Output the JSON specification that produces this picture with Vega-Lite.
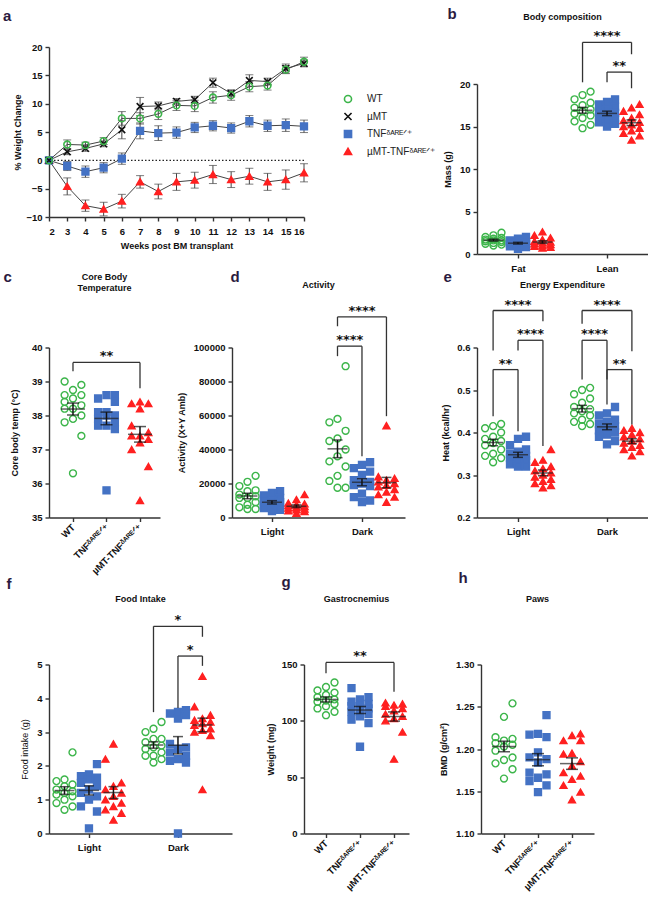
{
  "$schema": "https://vega.github.io/schema/vega-lite/v6.json",
  "padding": {"left": 3, "top": 6, "right": 0, "bottom": 0},
  "spacing": -3.5,
  "vconcat": [
    {
      "bounds": "flush",
      "spacing": 173,
      "hconcat": [
        {
          "width": 255,
          "height": 170,
          "title": {"text": "a", "anchor": "start", "frame": "group", "dx": -46, "offset": 6.5, "fontSize": 15, "color": "#2b1b3f", "baseline": "alphabetic"},
          "data": {"values": [
            {"wk": 2, "g": "µMT-TNF", "m": 0, "se": 0}, {"wk": 3, "g": "µMT-TNF", "m": -4.6, "se": 1.5}, {"wk": 4, "g": "µMT-TNF", "m": -8.0, "se": 1.0}, {"wk": 5, "g": "µMT-TNF", "m": -8.6, "se": 1.2}, {"wk": 6, "g": "µMT-TNF", "m": -7.2, "se": 1.2}, {"wk": 7, "g": "µMT-TNF", "m": -3.8, "se": 1.1}, {"wk": 8, "g": "µMT-TNF", "m": -5.5, "se": 1.3}, {"wk": 9, "g": "µMT-TNF", "m": -3.8, "se": 1.5}, {"wk": 10, "g": "µMT-TNF", "m": -3.5, "se": 1.4}, {"wk": 11, "g": "µMT-TNF", "m": -2.5, "se": 1.6}, {"wk": 12, "g": "µMT-TNF", "m": -3.4, "se": 1.4}, {"wk": 13, "g": "µMT-TNF", "m": -2.8, "se": 1.4}, {"wk": 14, "g": "µMT-TNF", "m": -3.8, "se": 1.5}, {"wk": 15, "g": "µMT-TNF", "m": -3.4, "se": 1.7}, {"wk": 16, "g": "µMT-TNF", "m": -2.2, "se": 1.6},
            {"wk": 2, "g": "TNF", "m": 0, "se": 0}, {"wk": 3, "g": "TNF", "m": -1.0, "se": 0.8}, {"wk": 4, "g": "TNF", "m": -2.0, "se": 1.0}, {"wk": 5, "g": "TNF", "m": -1.3, "se": 0.9}, {"wk": 6, "g": "TNF", "m": 0.3, "se": 1.0}, {"wk": 7, "g": "TNF", "m": 5.2, "se": 1.4}, {"wk": 8, "g": "TNF", "m": 4.8, "se": 1.3}, {"wk": 9, "g": "TNF", "m": 4.9, "se": 1.0}, {"wk": 10, "g": "TNF", "m": 5.8, "se": 0.9}, {"wk": 11, "g": "TNF", "m": 6.1, "se": 0.9}, {"wk": 12, "g": "TNF", "m": 5.7, "se": 0.9}, {"wk": 13, "g": "TNF", "m": 6.9, "se": 1.0}, {"wk": 14, "g": "TNF", "m": 6.1, "se": 1.0}, {"wk": 15, "g": "TNF", "m": 6.2, "se": 1.1}, {"wk": 16, "g": "TNF", "m": 6.0, "se": 1.1},
            {"wk": 2, "g": "µMT", "m": 0, "se": 0}, {"wk": 3, "g": "µMT", "m": 1.5, "se": 0.5}, {"wk": 4, "g": "µMT", "m": 2.1, "se": 0.5}, {"wk": 5, "g": "µMT", "m": 2.9, "se": 0.5}, {"wk": 6, "g": "µMT", "m": 5.4, "se": 1.6}, {"wk": 7, "g": "µMT", "m": 9.5, "se": 1.6}, {"wk": 8, "g": "µMT", "m": 9.6, "se": 0.7}, {"wk": 9, "g": "µMT", "m": 10.4, "se": 0.5}, {"wk": 10, "g": "µMT", "m": 10.7, "se": 0.6}, {"wk": 11, "g": "µMT", "m": 13.7, "se": 0.8}, {"wk": 12, "g": "µMT", "m": 11.8, "se": 0.6}, {"wk": 13, "g": "µMT", "m": 14.1, "se": 1.0}, {"wk": 14, "g": "µMT", "m": 13.9, "se": 0.6}, {"wk": 15, "g": "µMT", "m": 16.2, "se": 0.8}, {"wk": 16, "g": "µMT", "m": 17.1, "se": 0.6},
            {"wk": 2, "g": "WT", "m": 0, "se": 0}, {"wk": 3, "g": "WT", "m": 2.8, "se": 0.8}, {"wk": 4, "g": "WT", "m": 2.7, "se": 0.5}, {"wk": 5, "g": "WT", "m": 3.4, "se": 0.6}, {"wk": 6, "g": "WT", "m": 7.4, "se": 1.2}, {"wk": 7, "g": "WT", "m": 7.4, "se": 1.0}, {"wk": 8, "g": "WT", "m": 8.2, "se": 1.0}, {"wk": 9, "g": "WT", "m": 9.7, "se": 0.9}, {"wk": 10, "g": "WT", "m": 9.6, "se": 1.0}, {"wk": 11, "g": "WT", "m": 11.1, "se": 1.0}, {"wk": 12, "g": "WT", "m": 11.5, "se": 0.9}, {"wk": 13, "g": "WT", "m": 13.0, "se": 0.9}, {"wk": 14, "g": "WT", "m": 13.2, "se": 0.8}, {"wk": 15, "g": "WT", "m": 16.0, "se": 0.7}, {"wk": 16, "g": "WT", "m": 17.4, "se": 0.8}
          ]},
          "layer": [
            {
              "data": {"values": [{"z": 0}]},
              "mark": {"type": "rule", "strokeDash": [1.5, 2], "color": "#222", "strokeWidth": 1.3},
              "encoding": {"y": {"field": "z", "type": "quantitative", "scale": {"domain": [-10, 20], "nice": false, "zero": false}}}
            },
            {
              "mark": {"type": "line", "color": "#444", "strokeWidth": 1},
              "encoding": {
                "x": {"field": "wk", "type": "quantitative", "scale": {"domain": [2, 16], "nice": false, "zero": false}, "axis": {"values": [2, 3, 4, 5, 6, 7, 8, 9, 10, 11, 12, 13, 14, 15, 16], "tickCount": 30, "format": "d", "labelOverlap": false, "title": "Weeks post BM transplant", "titlePadding": 6}},
                "y": {"field": "m", "type": "quantitative", "scale": {"domain": [-10, 20], "nice": false, "zero": false}, "axis": {"values": [-10, -5, 0, 5, 10, 15, 20], "tickCount": 30, "format": "d", "labelOverlap": false, "title": "% Weight Change", "titlePadding": 3}},
                "detail": {"field": "g", "type": "nominal"}
              }
            },
            {
              "transform": [
                {"calculate": "datum.m - datum.se", "as": "lo"},
                {"calculate": "datum.m + datum.se", "as": "hi"}
              ],
              "layer": [
                {
                  "mark": {"type": "rule", "color": "#444", "strokeWidth": 1},
                  "encoding": {
                    "x": {"field": "wk", "type": "quantitative", "scale": {"domain": [2, 16], "nice": false, "zero": false}},
                    "y": {"field": "lo", "type": "quantitative", "scale": {"domain": [-10, 20], "nice": false, "zero": false}},
                    "y2": {"field": "hi"}
                  }
                },
                {
                  "mark": {"type": "tick", "orient": "horizontal", "size": 8, "thickness": 1, "color": "#444"},
                  "encoding": {
                    "x": {"field": "wk", "type": "quantitative", "scale": {"domain": [2, 16], "nice": false, "zero": false}},
                    "y": {"field": "lo", "type": "quantitative", "scale": {"domain": [-10, 20], "nice": false, "zero": false}}
                  }
                },
                {
                  "mark": {"type": "tick", "orient": "horizontal", "size": 8, "thickness": 1, "color": "#444"},
                  "encoding": {
                    "x": {"field": "wk", "type": "quantitative", "scale": {"domain": [2, 16], "nice": false, "zero": false}},
                    "y": {"field": "hi", "type": "quantitative", "scale": {"domain": [-10, 20], "nice": false, "zero": false}}
                  }
                }
              ]
            },
            {
              "mark": {"type": "point", "size": 45, "strokeWidth": 1.6, "opacity": 1},
              "encoding": {
                "x": {"field": "wk", "type": "quantitative", "scale": {"domain": [2, 16], "nice": false, "zero": false}},
                "y": {"field": "m", "type": "quantitative", "scale": {"domain": [-10, 20], "nice": false, "zero": false}},
                "shape": {"field": "g", "type": "nominal", "scale": {"domain": ["WT", "µMT", "TNF", "µMT-TNF"], "range": ["circle", "M-1,-1L1,1M-1,1L1,-1", "square", "triangle-up"]},
                  "legend": {"title": null, "orient": "none", "legendX": 294, "legendY": 47, "padding": 0, "labelFont": "Liberation Sans", "labelFontSize": 10, "labelColor": "#222", "rowPadding": 3.5, "symbolSize": 50, "symbolStrokeWidth": 1.6, "labelOffset": 14,
                    "labelExpr": "datum.label == 'TNF' ? 'TNFᵟᴬᴿᴱᐟ⁺' : datum.label == 'µMT-TNF' ? 'µMT-TNFᵟᴬᴿᴱᐟ⁺' : datum.label"}},
                "stroke": {"field": "g", "type": "nominal", "scale": {"domain": ["WT", "µMT", "TNF", "µMT-TNF"], "range": ["#3cb54a", "#111111", "#4472c4", "#ff2020"]}},
                "fill": {"field": "g", "type": "nominal", "scale": {"domain": ["WT", "µMT", "TNF", "µMT-TNF"], "range": ["transparent", "transparent", "#4472c4", "#ff2020"]}}
              }
            }
          ]
        },
        {
          "width": 171,
          "height": 207,
          "title": {"text": "Body composition", "offset": -16},
          "data": {"values": [
            {"cat": "Fat", "g": "WT", "v": 2.5}, {"cat": "Fat", "g": "WT", "v": 2.2}, {"cat": "Fat", "g": "WT", "v": 2.0}, {"cat": "Fat", "g": "WT", "v": 1.9}, {"cat": "Fat", "g": "WT", "v": 1.8}, {"cat": "Fat", "g": "WT", "v": 1.7}, {"cat": "Fat", "g": "WT", "v": 1.6}, {"cat": "Fat", "g": "WT", "v": 1.6}, {"cat": "Fat", "g": "WT", "v": 1.5}, {"cat": "Fat", "g": "WT", "v": 1.4}, {"cat": "Fat", "g": "WT", "v": 1.3}, {"cat": "Fat", "g": "WT", "v": 1.2}, {"cat": "Fat", "g": "WT", "v": 1.1}, {"cat": "Fat", "g": "WT", "v": 1.0},
            {"cat": "Fat", "g": "TNF", "v": 2.0}, {"cat": "Fat", "g": "TNF", "v": 1.8}, {"cat": "Fat", "g": "TNF", "v": 1.6}, {"cat": "Fat", "g": "TNF", "v": 1.5}, {"cat": "Fat", "g": "TNF", "v": 1.4}, {"cat": "Fat", "g": "TNF", "v": 1.35}, {"cat": "Fat", "g": "TNF", "v": 1.3}, {"cat": "Fat", "g": "TNF", "v": 1.25}, {"cat": "Fat", "g": "TNF", "v": 1.2}, {"cat": "Fat", "g": "TNF", "v": 1.1}, {"cat": "Fat", "g": "TNF", "v": 1.0}, {"cat": "Fat", "g": "TNF", "v": 0.9}, {"cat": "Fat", "g": "TNF", "v": 0.8}, {"cat": "Fat", "g": "TNF", "v": 0.6},
            {"cat": "Fat", "g": "µMT-TNF", "v": 2.6}, {"cat": "Fat", "g": "µMT-TNF", "v": 2.2}, {"cat": "Fat", "g": "µMT-TNF", "v": 1.9}, {"cat": "Fat", "g": "µMT-TNF", "v": 1.7}, {"cat": "Fat", "g": "µMT-TNF", "v": 1.5}, {"cat": "Fat", "g": "µMT-TNF", "v": 1.4}, {"cat": "Fat", "g": "µMT-TNF", "v": 1.3}, {"cat": "Fat", "g": "µMT-TNF", "v": 1.2}, {"cat": "Fat", "g": "µMT-TNF", "v": 1.1}, {"cat": "Fat", "g": "µMT-TNF", "v": 1.0}, {"cat": "Fat", "g": "µMT-TNF", "v": 0.9}, {"cat": "Fat", "g": "µMT-TNF", "v": 0.8}, {"cat": "Fat", "g": "µMT-TNF", "v": 0.7},
            {"cat": "Lean", "g": "WT", "v": 19.1}, {"cat": "Lean", "g": "WT", "v": 18.7}, {"cat": "Lean", "g": "WT", "v": 18.2}, {"cat": "Lean", "g": "WT", "v": 17.8}, {"cat": "Lean", "g": "WT", "v": 17.5}, {"cat": "Lean", "g": "WT", "v": 17.2}, {"cat": "Lean", "g": "WT", "v": 17.0}, {"cat": "Lean", "g": "WT", "v": 16.8}, {"cat": "Lean", "g": "WT", "v": 16.5}, {"cat": "Lean", "g": "WT", "v": 16.3}, {"cat": "Lean", "g": "WT", "v": 16.0}, {"cat": "Lean", "g": "WT", "v": 15.6}, {"cat": "Lean", "g": "WT", "v": 15.2}, {"cat": "Lean", "g": "WT", "v": 14.8},
            {"cat": "Lean", "g": "TNF", "v": 18.2}, {"cat": "Lean", "g": "TNF", "v": 17.9}, {"cat": "Lean", "g": "TNF", "v": 17.6}, {"cat": "Lean", "g": "TNF", "v": 17.3}, {"cat": "Lean", "g": "TNF", "v": 17.0}, {"cat": "Lean", "g": "TNF", "v": 16.8}, {"cat": "Lean", "g": "TNF", "v": 16.6}, {"cat": "Lean", "g": "TNF", "v": 16.4}, {"cat": "Lean", "g": "TNF", "v": 16.2}, {"cat": "Lean", "g": "TNF", "v": 16.0}, {"cat": "Lean", "g": "TNF", "v": 15.8}, {"cat": "Lean", "g": "TNF", "v": 15.5}, {"cat": "Lean", "g": "TNF", "v": 15.3}, {"cat": "Lean", "g": "TNF", "v": 15.0},
            {"cat": "Lean", "g": "µMT-TNF", "v": 17.6}, {"cat": "Lean", "g": "µMT-TNF", "v": 17.2}, {"cat": "Lean", "g": "µMT-TNF", "v": 16.8}, {"cat": "Lean", "g": "µMT-TNF", "v": 16.4}, {"cat": "Lean", "g": "µMT-TNF", "v": 16.0}, {"cat": "Lean", "g": "µMT-TNF", "v": 15.7}, {"cat": "Lean", "g": "µMT-TNF", "v": 15.5}, {"cat": "Lean", "g": "µMT-TNF", "v": 15.2}, {"cat": "Lean", "g": "µMT-TNF", "v": 15.0}, {"cat": "Lean", "g": "µMT-TNF", "v": 14.8}, {"cat": "Lean", "g": "µMT-TNF", "v": 14.5}, {"cat": "Lean", "g": "µMT-TNF", "v": 14.2}, {"cat": "Lean", "g": "µMT-TNF", "v": 13.9}, {"cat": "Lean", "g": "µMT-TNF", "v": 13.4}
          ]},
          "layer": [
            {
              "transform": [
                {"window": [{"op": "row_number", "as": "r"}], "groupby": ["cat", "g"], "sort": [{"field": "v", "order": "ascending"}]},
                {"calculate": "indexof(['Fat','Lean'], datum.cat) + (indexof(['WT','TNF','µMT-TNF'], datum.g) - 1) * 0.275 + (datum.r % 3 - 1) * 0.09", "as": "pos"}
              ],
              "mark": {"type": "point", "size": 48, "strokeWidth": 1.4, "opacity": 1},
              "encoding": {
                "x": {"field": "pos", "type": "quantitative", "scale": {"domain": [-0.46, 1.46], "nice": false, "zero": false}, "axis": {"values": [0, 1], "tickCount": 30, "labelOverlap": false, "labelExpr": "datum.value < 0.5 ? 'Fat' : 'Lean'", "title": "b", "titleX": -30, "titleY": -236, "titleAngle": 0, "titleAlign": "left", "titleBaseline": "alphabetic", "titleFontSize": 15, "titleColor": "#2b1b3f"}},
                "y": {"field": "v", "type": "quantitative", "scale": {"domain": [0, 20], "range": [207, 37], "nice": false, "zero": false}, "axis": {"values": [0, 5, 10, 15, 20], "tickCount": 30, "format": "d", "labelOverlap": false, "title": "Mass (g)", "titlePadding": 7}},
                "shape": {"field": "g", "type": "nominal", "scale": {"domain": ["WT", "TNF", "µMT-TNF"], "range": ["circle", "square", "triangle-up"]}, "legend": null},
                "stroke": {"field": "g", "type": "nominal", "scale": {"domain": ["WT", "TNF", "µMT-TNF"], "range": ["#3cb54a", "#4472c4", "#ff2020"]}, "legend": null},
                "fill": {"field": "g", "type": "nominal", "scale": {"domain": ["WT", "TNF", "µMT-TNF"], "range": ["transparent", "#4472c4", "#ff2020"]}, "legend": null}
              }
            },
            {
              "transform": [
                {"aggregate": [{"op": "mean", "field": "v", "as": "m"}, {"op": "stderr", "field": "v", "as": "se"}], "groupby": ["cat", "g"]},
                {"calculate": "datum.m - datum.se", "as": "lo"},
                {"calculate": "datum.m + datum.se", "as": "hi"},
                {"calculate": "indexof(['Fat','Lean'], datum.cat) + (indexof(['WT','TNF','µMT-TNF'], datum.g) - 1) * 0.275", "as": "pos"}
              ],
              "layer": [
                {"mark": {"type": "tick", "orient": "horizontal", "size": 20, "thickness": 1.5, "color": "#222"}, "encoding": {"x": {"field": "pos", "type": "quantitative", "scale": {"domain": [-0.46, 1.46], "nice": false, "zero": false}}, "y": {"field": "m", "type": "quantitative", "scale": {"domain": [0, 20], "range": [207, 37], "nice": false, "zero": false}}}},
                {"mark": {"type": "rule", "color": "#111", "strokeWidth": 1.5}, "encoding": {"x": {"field": "pos", "type": "quantitative", "scale": {"domain": [-0.46, 1.46], "nice": false, "zero": false}}, "y": {"field": "lo", "type": "quantitative", "scale": {"domain": [0, 20], "range": [207, 37], "nice": false, "zero": false}}, "y2": {"field": "hi"}}},
                {"mark": {"type": "tick", "orient": "horizontal", "size": 10, "thickness": 1.5, "color": "#111"}, "encoding": {"x": {"field": "pos", "type": "quantitative", "scale": {"domain": [-0.46, 1.46], "nice": false, "zero": false}}, "y": {"field": "lo", "type": "quantitative", "scale": {"domain": [0, 20], "range": [207, 37], "nice": false, "zero": false}}}},
                {"mark": {"type": "tick", "orient": "horizontal", "size": 10, "thickness": 1.5, "color": "#111"}, "encoding": {"x": {"field": "pos", "type": "quantitative", "scale": {"domain": [-0.46, 1.46], "nice": false, "zero": false}}, "y": {"field": "hi", "type": "quantitative", "scale": {"domain": [0, 20], "range": [207, 37], "nice": false, "zero": false}}}}
              ]
            },
            {
              "data": {"values": [
                {"cat": "Lean", "g1": "WT", "g2": "µMT-TNF", "top": 24.9, "b1": 20.2, "b2": 23.5, "lab": "****"},
                {"cat": "Lean", "g1": "TNF", "g2": "µMT-TNF", "top": 21.4, "b1": 20.2, "b2": 19.5, "lab": "**"}
              ]},
              "transform": [
                {"calculate": "indexof(['Fat','Lean'], datum.cat) + (indexof(['WT','TNF','µMT-TNF'], datum.g1) - 1) * 0.275", "as": "p1"},
                {"calculate": "indexof(['Fat','Lean'], datum.cat) + (indexof(['WT','TNF','µMT-TNF'], datum.g2) - 1) * 0.275", "as": "p2"},
                {"calculate": "(datum.p1 + datum.p2) / 2", "as": "pm"}
              ],
              "layer": [
                {"mark": {"type": "rule", "color": "#333", "strokeWidth": 1.3}, "encoding": {"x": {"field": "p1", "type": "quantitative", "scale": {"domain": [-0.46, 1.46], "nice": false, "zero": false}}, "x2": {"field": "p2"}, "y": {"field": "top", "type": "quantitative", "scale": {"domain": [0, 20], "range": [207, 37], "nice": false, "zero": false}}}},
                {"mark": {"type": "rule", "color": "#333", "strokeWidth": 1.3}, "encoding": {"x": {"field": "p1", "type": "quantitative", "scale": {"domain": [-0.46, 1.46], "nice": false, "zero": false}}, "y": {"field": "b1", "type": "quantitative", "scale": {"domain": [0, 20], "range": [207, 37], "nice": false, "zero": false}}, "y2": {"field": "top"}}},
                {"mark": {"type": "rule", "color": "#333", "strokeWidth": 1.3}, "encoding": {"x": {"field": "p2", "type": "quantitative", "scale": {"domain": [-0.46, 1.46], "nice": false, "zero": false}}, "y": {"field": "b2", "type": "quantitative", "scale": {"domain": [0, 20], "range": [207, 37], "nice": false, "zero": false}}, "y2": {"field": "top"}}},
                {"mark": {"type": "text", "font": "DejaVu Sans", "fontSize": 13, "fontWeight": "bold", "color": "#111", "baseline": "alphabetic", "dy": -2}, "encoding": {"x": {"field": "pm", "type": "quantitative", "scale": {"domain": [-0.46, 1.46], "nice": false, "zero": false}}, "y": {"field": "top", "type": "quantitative", "scale": {"domain": [0, 20], "range": [207, 37], "nice": false, "zero": false}}, "text": {"field": "lab"}}}
              ]
            }
          ]
        }
      ]
    },
    {
      "spacing": -5,
      "vconcat": [
        {
          "bounds": "flush",
          "spacing": 72,
          "hconcat": [
            {
              "width": 111,
              "height": 170,
              "title": {"text": ["Core Body", "Temperature"], "offset": -23, "lineHeight": 11},
              "data": {"values": [
                {"g": "WT", "v": 39.0}, {"g": "WT", "v": 38.9}, {"g": "WT", "v": 38.75}, {"g": "WT", "v": 38.6}, {"g": "WT", "v": 38.6}, {"g": "WT", "v": 38.5}, {"g": "WT", "v": 38.4}, {"g": "WT", "v": 38.3}, {"g": "WT", "v": 38.2}, {"g": "WT", "v": 38.2}, {"g": "WT", "v": 38.0}, {"g": "WT", "v": 37.9}, {"g": "WT", "v": 37.8}, {"g": "WT", "v": 37.4}, {"g": "WT", "v": 36.3},
                {"g": "TNF", "v": 38.6}, {"g": "TNF", "v": 38.6}, {"g": "TNF", "v": 38.5}, {"g": "TNF", "v": 38.4}, {"g": "TNF", "v": 38.1}, {"g": "TNF", "v": 38.0}, {"g": "TNF", "v": 38.1}, {"g": "TNF", "v": 38.0}, {"g": "TNF", "v": 37.9}, {"g": "TNF", "v": 37.7}, {"g": "TNF", "v": 37.8}, {"g": "TNF", "v": 37.7}, {"g": "TNF", "v": 37.6}, {"g": "TNF", "v": 35.8},
                {"g": "µMT-TNF", "v": 38.4}, {"g": "µMT-TNF", "v": 38.35}, {"g": "µMT-TNF", "v": 38.35}, {"g": "µMT-TNF", "v": 38.2}, {"g": "µMT-TNF", "v": 37.7}, {"g": "µMT-TNF", "v": 37.5}, {"g": "µMT-TNF", "v": 37.4}, {"g": "µMT-TNF", "v": 37.4}, {"g": "µMT-TNF", "v": 37.3}, {"g": "µMT-TNF", "v": 37.2}, {"g": "µMT-TNF", "v": 37.0}, {"g": "µMT-TNF", "v": 36.5}, {"g": "µMT-TNF", "v": 35.5}
              ]},
              "layer": [
                {
                  "transform": [
                    {"window": [{"op": "row_number", "as": "r"}], "groupby": ["g"], "sort": [{"field": "v", "order": "ascending"}]},
                    {"calculate": "indexof(['WT','TNF','µMT-TNF'], datum.g) + (datum.r % 3 - 1) * 0.25", "as": "pos"}
                  ],
                  "mark": {"type": "point", "size": 48, "strokeWidth": 1.4, "opacity": 1},
                  "encoding": {
                    "x": {"field": "pos", "type": "quantitative", "scale": {"domain": [-0.716, 2.597], "nice": false, "zero": false}, "axis": {"values": [0, 1, 2], "tickCount": 30, "labelOverlap": false, "labelExpr": "datum.value == 0 ? 'WT' : datum.value == 1 ? 'TNFᵟᴬᴿᴱᐟ⁺' : 'µMT-TNFᵟᴬᴿᴱᐟ⁺'", "labelAngle": -45, "labelAlign": "right", "labelBaseline": "middle", "labelPadding": 4, "title": "c", "titleX": -46, "titleY": -236, "titleAngle": 0, "titleAlign": "left", "titleBaseline": "alphabetic", "titleFontSize": 15, "titleColor": "#2b1b3f"}},
                    "y": {"field": "v", "type": "quantitative", "scale": {"domain": [35, 40], "nice": false, "zero": false}, "axis": {"values": [35, 36, 37, 38, 39, 40], "tickCount": 30, "format": "d", "labelOverlap": false, "title": "Core body temp (°C)", "titlePadding": 12}},
                    "shape": {"field": "g", "type": "nominal", "scale": {"domain": ["WT", "TNF", "µMT-TNF"], "range": ["circle", "square", "triangle-up"]}, "legend": null},
                    "stroke": {"field": "g", "type": "nominal", "scale": {"domain": ["WT", "TNF", "µMT-TNF"], "range": ["#3cb54a", "#4472c4", "#ff2020"]}, "legend": null},
                    "fill": {"field": "g", "type": "nominal", "scale": {"domain": ["WT", "TNF", "µMT-TNF"], "range": ["transparent", "#4472c4", "#ff2020"]}, "legend": null}
                  }
                },
                {
                  "transform": [
                    {"aggregate": [{"op": "mean", "field": "v", "as": "m"}, {"op": "stderr", "field": "v", "as": "se"}], "groupby": ["g"]},
                    {"calculate": "datum.m - datum.se", "as": "lo"},
                    {"calculate": "datum.m + datum.se", "as": "hi"},
                    {"calculate": "indexof(['WT','TNF','µMT-TNF'], datum.g)", "as": "pos"}
                  ],
                  "layer": [
                    {"mark": {"type": "tick", "orient": "horizontal", "size": 24, "thickness": 1.5, "color": "#222"}, "encoding": {"x": {"field": "pos", "type": "quantitative", "scale": {"domain": [-0.716, 2.597], "nice": false, "zero": false}}, "y": {"field": "m", "type": "quantitative", "scale": {"domain": [35, 40], "nice": false, "zero": false}}}},
                    {"mark": {"type": "rule", "color": "#111", "strokeWidth": 1.5}, "encoding": {"x": {"field": "pos", "type": "quantitative", "scale": {"domain": [-0.716, 2.597], "nice": false, "zero": false}}, "y": {"field": "lo", "type": "quantitative", "scale": {"domain": [35, 40], "nice": false, "zero": false}}, "y2": {"field": "hi"}}},
                    {"mark": {"type": "tick", "orient": "horizontal", "size": 12, "thickness": 1.5, "color": "#111"}, "encoding": {"x": {"field": "pos", "type": "quantitative", "scale": {"domain": [-0.716, 2.597], "nice": false, "zero": false}}, "y": {"field": "lo", "type": "quantitative", "scale": {"domain": [35, 40], "nice": false, "zero": false}}}},
                    {"mark": {"type": "tick", "orient": "horizontal", "size": 12, "thickness": 1.5, "color": "#111"}, "encoding": {"x": {"field": "pos", "type": "quantitative", "scale": {"domain": [-0.716, 2.597], "nice": false, "zero": false}}, "y": {"field": "hi", "type": "quantitative", "scale": {"domain": [35, 40], "nice": false, "zero": false}}}}
                  ]
                },
                {
                  "data": {"values": [
                    {"g1": "WT", "g2": "µMT-TNF", "top": 39.56, "b1": 39.3, "b2": 38.8, "lab": "**"}
                  ]},
                  "transform": [
                    {"calculate": "indexof(['WT','TNF','µMT-TNF'], datum.g1)", "as": "p1"},
                    {"calculate": "indexof(['WT','TNF','µMT-TNF'], datum.g2)", "as": "p2"},
                    {"calculate": "(datum.p1 + datum.p2) / 2", "as": "pm"}
                  ],
                  "layer": [
                    {"mark": {"type": "rule", "color": "#333", "strokeWidth": 1.3}, "encoding": {"x": {"field": "p1", "type": "quantitative", "scale": {"domain": [-0.716, 2.597], "nice": false, "zero": false}}, "x2": {"field": "p2"}, "y": {"field": "top", "type": "quantitative", "scale": {"domain": [35, 40], "nice": false, "zero": false}}}},
                    {"mark": {"type": "rule", "color": "#333", "strokeWidth": 1.3}, "encoding": {"x": {"field": "p1", "type": "quantitative", "scale": {"domain": [-0.716, 2.597], "nice": false, "zero": false}}, "y": {"field": "b1", "type": "quantitative", "scale": {"domain": [35, 40], "nice": false, "zero": false}}, "y2": {"field": "top"}}},
                    {"mark": {"type": "rule", "color": "#333", "strokeWidth": 1.3}, "encoding": {"x": {"field": "p2", "type": "quantitative", "scale": {"domain": [-0.716, 2.597], "nice": false, "zero": false}}, "y": {"field": "b2", "type": "quantitative", "scale": {"domain": [35, 40], "nice": false, "zero": false}}, "y2": {"field": "top"}}},
                    {"mark": {"type": "text", "font": "DejaVu Sans", "fontSize": 13, "fontWeight": "bold", "color": "#111", "baseline": "alphabetic", "dy": -2}, "encoding": {"x": {"field": "pm", "type": "quantitative", "scale": {"domain": [-0.716, 2.597], "nice": false, "zero": false}}, "y": {"field": "top", "type": "quantitative", "scale": {"domain": [35, 40], "nice": false, "zero": false}}, "text": {"field": "lab"}}}
                  ]
                }
              ]
            },
            {
              "width": 173,
              "height": 170,
              "title": {"text": "Activity", "offset": -20},
              "data": {"values": [
                {"cat": "Light", "g": "WT", "v": 24500}, {"cat": "Light", "g": "WT", "v": 21000}, {"cat": "Light", "g": "WT", "v": 18500}, {"cat": "Light", "g": "WT", "v": 16000}, {"cat": "Light", "g": "WT", "v": 15500}, {"cat": "Light", "g": "WT", "v": 13500}, {"cat": "Light", "g": "WT", "v": 12500}, {"cat": "Light", "g": "WT", "v": 11500}, {"cat": "Light", "g": "WT", "v": 11500}, {"cat": "Light", "g": "WT", "v": 9000}, {"cat": "Light", "g": "WT", "v": 7500}, {"cat": "Light", "g": "WT", "v": 6000}, {"cat": "Light", "g": "WT", "v": 5000}, {"cat": "Light", "g": "WT", "v": 5000},
                {"cat": "Light", "g": "TNF", "v": 15500}, {"cat": "Light", "g": "TNF", "v": 14500}, {"cat": "Light", "g": "TNF", "v": 13000}, {"cat": "Light", "g": "TNF", "v": 11500}, {"cat": "Light", "g": "TNF", "v": 10000}, {"cat": "Light", "g": "TNF", "v": 9500}, {"cat": "Light", "g": "TNF", "v": 9000}, {"cat": "Light", "g": "TNF", "v": 8000}, {"cat": "Light", "g": "TNF", "v": 7500}, {"cat": "Light", "g": "TNF", "v": 6500}, {"cat": "Light", "g": "TNF", "v": 6000}, {"cat": "Light", "g": "TNF", "v": 5500}, {"cat": "Light", "g": "TNF", "v": 4500}, {"cat": "Light", "g": "TNF", "v": 3800},
                {"cat": "Light", "g": "µMT-TNF", "v": 13500}, {"cat": "Light", "g": "µMT-TNF", "v": 10500}, {"cat": "Light", "g": "µMT-TNF", "v": 8500}, {"cat": "Light", "g": "µMT-TNF", "v": 8000}, {"cat": "Light", "g": "µMT-TNF", "v": 7500}, {"cat": "Light", "g": "µMT-TNF", "v": 7000}, {"cat": "Light", "g": "µMT-TNF", "v": 6500}, {"cat": "Light", "g": "µMT-TNF", "v": 6000}, {"cat": "Light", "g": "µMT-TNF", "v": 5500}, {"cat": "Light", "g": "µMT-TNF", "v": 5000}, {"cat": "Light", "g": "µMT-TNF", "v": 4500}, {"cat": "Light", "g": "µMT-TNF", "v": 4000}, {"cat": "Light", "g": "µMT-TNF", "v": 3500}, {"cat": "Light", "g": "µMT-TNF", "v": 2500},
                {"cat": "Dark", "g": "WT", "v": 89000}, {"cat": "Dark", "g": "WT", "v": 58000}, {"cat": "Dark", "g": "WT", "v": 56000}, {"cat": "Dark", "g": "WT", "v": 51000}, {"cat": "Dark", "g": "WT", "v": 46500}, {"cat": "Dark", "g": "WT", "v": 45000}, {"cat": "Dark", "g": "WT", "v": 40000}, {"cat": "Dark", "g": "WT", "v": 36000}, {"cat": "Dark", "g": "WT", "v": 33000}, {"cat": "Dark", "g": "WT", "v": 30000}, {"cat": "Dark", "g": "WT", "v": 24500}, {"cat": "Dark", "g": "WT", "v": 21500}, {"cat": "Dark", "g": "WT", "v": 17500}, {"cat": "Dark", "g": "WT", "v": 17500},
                {"cat": "Dark", "g": "TNF", "v": 32500}, {"cat": "Dark", "g": "TNF", "v": 31000}, {"cat": "Dark", "g": "TNF", "v": 29000}, {"cat": "Dark", "g": "TNF", "v": 27000}, {"cat": "Dark", "g": "TNF", "v": 25000}, {"cat": "Dark", "g": "TNF", "v": 22000}, {"cat": "Dark", "g": "TNF", "v": 21000}, {"cat": "Dark", "g": "TNF", "v": 20000}, {"cat": "Dark", "g": "TNF", "v": 18500}, {"cat": "Dark", "g": "TNF", "v": 19000}, {"cat": "Dark", "g": "TNF", "v": 14000}, {"cat": "Dark", "g": "TNF", "v": 12000}, {"cat": "Dark", "g": "TNF", "v": 10000}, {"cat": "Dark", "g": "TNF", "v": 9000},
                {"cat": "Dark", "g": "µMT-TNF", "v": 54000}, {"cat": "Dark", "g": "µMT-TNF", "v": 24000}, {"cat": "Dark", "g": "µMT-TNF", "v": 23000}, {"cat": "Dark", "g": "µMT-TNF", "v": 22000}, {"cat": "Dark", "g": "µMT-TNF", "v": 21000}, {"cat": "Dark", "g": "µMT-TNF", "v": 20000}, {"cat": "Dark", "g": "µMT-TNF", "v": 19000}, {"cat": "Dark", "g": "µMT-TNF", "v": 18000}, {"cat": "Dark", "g": "µMT-TNF", "v": 16500}, {"cat": "Dark", "g": "µMT-TNF", "v": 15000}, {"cat": "Dark", "g": "µMT-TNF", "v": 13500}, {"cat": "Dark", "g": "µMT-TNF", "v": 12000}, {"cat": "Dark", "g": "µMT-TNF", "v": 9000}
              ]},
              "layer": [
                {
                  "transform": [
                    {"window": [{"op": "row_number", "as": "r"}], "groupby": ["cat", "g"], "sort": [{"field": "v", "order": "ascending"}]},
                    {"calculate": "indexof(['Light','Dark'], datum.cat) + (indexof(['WT','TNF','µMT-TNF'], datum.g) - 1) * 0.272 + (datum.r % 3 - 1) * 0.09", "as": "pos"}
                  ],
                  "mark": {"type": "point", "size": 48, "strokeWidth": 1.4, "opacity": 1},
                  "encoding": {
                    "x": {"field": "pos", "type": "quantitative", "scale": {"domain": [-0.444, 1.478], "nice": false, "zero": false}, "axis": {"values": [0, 1], "tickCount": 30, "labelOverlap": false, "labelExpr": "datum.value < 0.5 ? 'Light' : 'Dark'", "title": "d", "titleX": -2, "titleY": -236, "titleAngle": 0, "titleAlign": "left", "titleBaseline": "alphabetic", "titleFontSize": 15, "titleColor": "#2b1b3f"}},
                    "y": {"field": "v", "type": "quantitative", "scale": {"domain": [0, 100000], "nice": false, "zero": false}, "axis": {"values": [0, 20000, 40000, 60000, 80000, 100000], "tickCount": 30, "format": "d", "labelOverlap": false, "title": "Activity (X+Y Amb)", "titlePadding": 7}},
                    "shape": {"field": "g", "type": "nominal", "scale": {"domain": ["WT", "TNF", "µMT-TNF"], "range": ["circle", "square", "triangle-up"]}, "legend": null},
                    "stroke": {"field": "g", "type": "nominal", "scale": {"domain": ["WT", "TNF", "µMT-TNF"], "range": ["#3cb54a", "#4472c4", "#ff2020"]}, "legend": null},
                    "fill": {"field": "g", "type": "nominal", "scale": {"domain": ["WT", "TNF", "µMT-TNF"], "range": ["transparent", "#4472c4", "#ff2020"]}, "legend": null}
                  }
                },
                {
                  "transform": [
                    {"aggregate": [{"op": "mean", "field": "v", "as": "m"}, {"op": "stderr", "field": "v", "as": "se"}], "groupby": ["cat", "g"]},
                    {"calculate": "datum.m - datum.se", "as": "lo"},
                    {"calculate": "datum.m + datum.se", "as": "hi"},
                    {"calculate": "indexof(['Light','Dark'], datum.cat) + (indexof(['WT','TNF','µMT-TNF'], datum.g) - 1) * 0.272", "as": "pos"}
                  ],
                  "layer": [
                    {"mark": {"type": "tick", "orient": "horizontal", "size": 20, "thickness": 1.5, "color": "#222"}, "encoding": {"x": {"field": "pos", "type": "quantitative", "scale": {"domain": [-0.444, 1.478], "nice": false, "zero": false}}, "y": {"field": "m", "type": "quantitative", "scale": {"domain": [0, 100000], "nice": false, "zero": false}}}},
                    {"mark": {"type": "rule", "color": "#111", "strokeWidth": 1.5}, "encoding": {"x": {"field": "pos", "type": "quantitative", "scale": {"domain": [-0.444, 1.478], "nice": false, "zero": false}}, "y": {"field": "lo", "type": "quantitative", "scale": {"domain": [0, 100000], "nice": false, "zero": false}}, "y2": {"field": "hi"}}},
                    {"mark": {"type": "tick", "orient": "horizontal", "size": 10, "thickness": 1.5, "color": "#111"}, "encoding": {"x": {"field": "pos", "type": "quantitative", "scale": {"domain": [-0.444, 1.478], "nice": false, "zero": false}}, "y": {"field": "lo", "type": "quantitative", "scale": {"domain": [0, 100000], "nice": false, "zero": false}}}},
                    {"mark": {"type": "tick", "orient": "horizontal", "size": 10, "thickness": 1.5, "color": "#111"}, "encoding": {"x": {"field": "pos", "type": "quantitative", "scale": {"domain": [-0.444, 1.478], "nice": false, "zero": false}}, "y": {"field": "hi", "type": "quantitative", "scale": {"domain": [0, 100000], "nice": false, "zero": false}}}}
                  ]
                },
                {
                  "data": {"values": [
                    {"cat": "Dark", "g1": "WT", "g2": "µMT-TNF", "top": 118000, "b1": 112500, "b2": 59600, "lab": "****"},
                    {"cat": "Dark", "g1": "WT", "g2": "TNF", "top": 100800, "b1": 94900, "b2": 36000, "lab": "****"}
                  ]},
                  "transform": [
                    {"calculate": "indexof(['Light','Dark'], datum.cat) + (indexof(['WT','TNF','µMT-TNF'], datum.g1) - 1) * 0.272", "as": "p1"},
                    {"calculate": "indexof(['Light','Dark'], datum.cat) + (indexof(['WT','TNF','µMT-TNF'], datum.g2) - 1) * 0.272", "as": "p2"},
                    {"calculate": "(datum.p1 + datum.p2) / 2", "as": "pm"}
                  ],
                  "layer": [
                    {"mark": {"type": "rule", "color": "#333", "strokeWidth": 1.3}, "encoding": {"x": {"field": "p1", "type": "quantitative", "scale": {"domain": [-0.444, 1.478], "nice": false, "zero": false}}, "x2": {"field": "p2"}, "y": {"field": "top", "type": "quantitative", "scale": {"domain": [0, 100000], "nice": false, "zero": false}}}},
                    {"mark": {"type": "rule", "color": "#333", "strokeWidth": 1.3}, "encoding": {"x": {"field": "p1", "type": "quantitative", "scale": {"domain": [-0.444, 1.478], "nice": false, "zero": false}}, "y": {"field": "b1", "type": "quantitative", "scale": {"domain": [0, 100000], "nice": false, "zero": false}}, "y2": {"field": "top"}}},
                    {"mark": {"type": "rule", "color": "#333", "strokeWidth": 1.3}, "encoding": {"x": {"field": "p2", "type": "quantitative", "scale": {"domain": [-0.444, 1.478], "nice": false, "zero": false}}, "y": {"field": "b2", "type": "quantitative", "scale": {"domain": [0, 100000], "nice": false, "zero": false}}, "y2": {"field": "top"}}},
                    {"mark": {"type": "text", "font": "DejaVu Sans", "fontSize": 13, "fontWeight": "bold", "color": "#111", "baseline": "alphabetic", "dy": -2}, "encoding": {"x": {"field": "pm", "type": "quantitative", "scale": {"domain": [-0.444, 1.478], "nice": false, "zero": false}}, "y": {"field": "top", "type": "quantitative", "scale": {"domain": [0, 100000], "nice": false, "zero": false}}, "text": {"field": "lab"}}}
                  ]
                }
              ]
            },
            {
              "width": 171,
              "height": 170,
              "title": {"text": "Energy Expenditure", "offset": -20},
              "data": {"values": [
                {"cat": "Light", "g": "WT", "v": 0.42}, {"cat": "Light", "g": "WT", "v": 0.415}, {"cat": "Light", "g": "WT", "v": 0.41}, {"cat": "Light", "g": "WT", "v": 0.40}, {"cat": "Light", "g": "WT", "v": 0.39}, {"cat": "Light", "g": "WT", "v": 0.385}, {"cat": "Light", "g": "WT", "v": 0.38}, {"cat": "Light", "g": "WT", "v": 0.375}, {"cat": "Light", "g": "WT", "v": 0.37}, {"cat": "Light", "g": "WT", "v": 0.36}, {"cat": "Light", "g": "WT", "v": 0.35}, {"cat": "Light", "g": "WT", "v": 0.345}, {"cat": "Light", "g": "WT", "v": 0.34}, {"cat": "Light", "g": "WT", "v": 0.33},
                {"cat": "Light", "g": "TNF", "v": 0.39}, {"cat": "Light", "g": "TNF", "v": 0.385}, {"cat": "Light", "g": "TNF", "v": 0.37}, {"cat": "Light", "g": "TNF", "v": 0.36}, {"cat": "Light", "g": "TNF", "v": 0.355}, {"cat": "Light", "g": "TNF", "v": 0.35}, {"cat": "Light", "g": "TNF", "v": 0.345}, {"cat": "Light", "g": "TNF", "v": 0.34}, {"cat": "Light", "g": "TNF", "v": 0.34}, {"cat": "Light", "g": "TNF", "v": 0.335}, {"cat": "Light", "g": "TNF", "v": 0.33}, {"cat": "Light", "g": "TNF", "v": 0.325}, {"cat": "Light", "g": "TNF", "v": 0.32}, {"cat": "Light", "g": "TNF", "v": 0.32},
                {"cat": "Light", "g": "µMT-TNF", "v": 0.36}, {"cat": "Light", "g": "µMT-TNF", "v": 0.335}, {"cat": "Light", "g": "µMT-TNF", "v": 0.33}, {"cat": "Light", "g": "µMT-TNF", "v": 0.32}, {"cat": "Light", "g": "µMT-TNF", "v": 0.315}, {"cat": "Light", "g": "µMT-TNF", "v": 0.31}, {"cat": "Light", "g": "µMT-TNF", "v": 0.305}, {"cat": "Light", "g": "µMT-TNF", "v": 0.30}, {"cat": "Light", "g": "µMT-TNF", "v": 0.295}, {"cat": "Light", "g": "µMT-TNF", "v": 0.29}, {"cat": "Light", "g": "µMT-TNF", "v": 0.285}, {"cat": "Light", "g": "µMT-TNF", "v": 0.28}, {"cat": "Light", "g": "µMT-TNF", "v": 0.275}, {"cat": "Light", "g": "µMT-TNF", "v": 0.27},
                {"cat": "Dark", "g": "WT", "v": 0.505}, {"cat": "Dark", "g": "WT", "v": 0.50}, {"cat": "Dark", "g": "WT", "v": 0.49}, {"cat": "Dark", "g": "WT", "v": 0.48}, {"cat": "Dark", "g": "WT", "v": 0.47}, {"cat": "Dark", "g": "WT", "v": 0.46}, {"cat": "Dark", "g": "WT", "v": 0.455}, {"cat": "Dark", "g": "WT", "v": 0.45}, {"cat": "Dark", "g": "WT", "v": 0.445}, {"cat": "Dark", "g": "WT", "v": 0.44}, {"cat": "Dark", "g": "WT", "v": 0.43}, {"cat": "Dark", "g": "WT", "v": 0.425}, {"cat": "Dark", "g": "WT", "v": 0.42}, {"cat": "Dark", "g": "WT", "v": 0.415},
                {"cat": "Dark", "g": "TNF", "v": 0.46}, {"cat": "Dark", "g": "TNF", "v": 0.445}, {"cat": "Dark", "g": "TNF", "v": 0.44}, {"cat": "Dark", "g": "TNF", "v": 0.43}, {"cat": "Dark", "g": "TNF", "v": 0.425}, {"cat": "Dark", "g": "TNF", "v": 0.42}, {"cat": "Dark", "g": "TNF", "v": 0.415}, {"cat": "Dark", "g": "TNF", "v": 0.41}, {"cat": "Dark", "g": "TNF", "v": 0.405}, {"cat": "Dark", "g": "TNF", "v": 0.40}, {"cat": "Dark", "g": "TNF", "v": 0.395}, {"cat": "Dark", "g": "TNF", "v": 0.39}, {"cat": "Dark", "g": "TNF", "v": 0.38}, {"cat": "Dark", "g": "TNF", "v": 0.372},
                {"cat": "Dark", "g": "µMT-TNF", "v": 0.41}, {"cat": "Dark", "g": "µMT-TNF", "v": 0.405}, {"cat": "Dark", "g": "µMT-TNF", "v": 0.40}, {"cat": "Dark", "g": "µMT-TNF", "v": 0.395}, {"cat": "Dark", "g": "µMT-TNF", "v": 0.39}, {"cat": "Dark", "g": "µMT-TNF", "v": 0.385}, {"cat": "Dark", "g": "µMT-TNF", "v": 0.38}, {"cat": "Dark", "g": "µMT-TNF", "v": 0.375}, {"cat": "Dark", "g": "µMT-TNF", "v": 0.37}, {"cat": "Dark", "g": "µMT-TNF", "v": 0.365}, {"cat": "Dark", "g": "µMT-TNF", "v": 0.36}, {"cat": "Dark", "g": "µMT-TNF", "v": 0.355}, {"cat": "Dark", "g": "µMT-TNF", "v": 0.345}
              ]},
              "layer": [
                {
                  "transform": [
                    {"window": [{"op": "row_number", "as": "r"}], "groupby": ["cat", "g"], "sort": [{"field": "v", "order": "ascending"}]},
                    {"calculate": "indexof(['Light','Dark'], datum.cat) + (indexof(['WT','TNF','µMT-TNF'], datum.g) - 1) * 0.28 + (datum.r % 3 - 1) * 0.09", "as": "pos"}
                  ],
                  "mark": {"type": "point", "size": 48, "strokeWidth": 1.4, "opacity": 1},
                  "encoding": {
                    "x": {"field": "pos", "type": "quantitative", "scale": {"domain": [-0.461, 1.461], "nice": false, "zero": false}, "axis": {"values": [0, 1], "tickCount": 30, "labelOverlap": false, "labelExpr": "datum.value < 0.5 ? 'Light' : 'Dark'", "title": "e", "titleX": -34, "titleY": -236, "titleAngle": 0, "titleAlign": "left", "titleBaseline": "alphabetic", "titleFontSize": 15, "titleColor": "#2b1b3f"}},
                    "y": {"field": "v", "type": "quantitative", "scale": {"domain": [0.2, 0.6], "nice": false, "zero": false}, "axis": {"values": [0.2, 0.3, 0.4, 0.5, 0.6], "tickCount": 30, "format": ".1f", "labelOverlap": false, "title": "Heat (kcal/hr)", "titlePadding": 6}},
                    "shape": {"field": "g", "type": "nominal", "scale": {"domain": ["WT", "TNF", "µMT-TNF"], "range": ["circle", "square", "triangle-up"]}, "legend": null},
                    "stroke": {"field": "g", "type": "nominal", "scale": {"domain": ["WT", "TNF", "µMT-TNF"], "range": ["#3cb54a", "#4472c4", "#ff2020"]}, "legend": null},
                    "fill": {"field": "g", "type": "nominal", "scale": {"domain": ["WT", "TNF", "µMT-TNF"], "range": ["transparent", "#4472c4", "#ff2020"]}, "legend": null}
                  }
                },
                {
                  "transform": [
                    {"aggregate": [{"op": "mean", "field": "v", "as": "m"}, {"op": "stderr", "field": "v", "as": "se"}], "groupby": ["cat", "g"]},
                    {"calculate": "datum.m - datum.se", "as": "lo"},
                    {"calculate": "datum.m + datum.se", "as": "hi"},
                    {"calculate": "indexof(['Light','Dark'], datum.cat) + (indexof(['WT','TNF','µMT-TNF'], datum.g) - 1) * 0.28", "as": "pos"}
                  ],
                  "layer": [
                    {"mark": {"type": "tick", "orient": "horizontal", "size": 20, "thickness": 1.5, "color": "#222"}, "encoding": {"x": {"field": "pos", "type": "quantitative", "scale": {"domain": [-0.461, 1.461], "nice": false, "zero": false}}, "y": {"field": "m", "type": "quantitative", "scale": {"domain": [0.2, 0.6], "nice": false, "zero": false}}}},
                    {"mark": {"type": "rule", "color": "#111", "strokeWidth": 1.5}, "encoding": {"x": {"field": "pos", "type": "quantitative", "scale": {"domain": [-0.461, 1.461], "nice": false, "zero": false}}, "y": {"field": "lo", "type": "quantitative", "scale": {"domain": [0.2, 0.6], "nice": false, "zero": false}}, "y2": {"field": "hi"}}},
                    {"mark": {"type": "tick", "orient": "horizontal", "size": 10, "thickness": 1.5, "color": "#111"}, "encoding": {"x": {"field": "pos", "type": "quantitative", "scale": {"domain": [-0.461, 1.461], "nice": false, "zero": false}}, "y": {"field": "lo", "type": "quantitative", "scale": {"domain": [0.2, 0.6], "nice": false, "zero": false}}}},
                    {"mark": {"type": "tick", "orient": "horizontal", "size": 10, "thickness": 1.5, "color": "#111"}, "encoding": {"x": {"field": "pos", "type": "quantitative", "scale": {"domain": [-0.461, 1.461], "nice": false, "zero": false}}, "y": {"field": "hi", "type": "quantitative", "scale": {"domain": [0.2, 0.6], "nice": false, "zero": false}}}}
                  ]
                },
                {
                  "data": {"values": [
                    {"cat": "Light", "g1": "WT", "g2": "µMT-TNF", "top": 0.687, "b1": 0.593, "b2": 0.662, "lab": "****"},
                    {"cat": "Light", "g1": "TNF", "g2": "µMT-TNF", "top": 0.617, "b1": 0.593, "b2": 0.368, "lab": "****"},
                    {"cat": "Light", "g1": "WT", "g2": "TNF", "top": 0.548, "b1": 0.438, "b2": 0.403, "lab": "**"},
                    {"cat": "Dark", "g1": "WT", "g2": "µMT-TNF", "top": 0.687, "b1": 0.656, "b2": 0.591, "lab": "****"},
                    {"cat": "Dark", "g1": "WT", "g2": "TNF", "top": 0.617, "b1": 0.525, "b2": 0.466, "lab": "****"},
                    {"cat": "Dark", "g1": "TNF", "g2": "µMT-TNF", "top": 0.548, "b1": 0.525, "b2": 0.419, "lab": "**"}
                  ]},
                  "transform": [
                    {"calculate": "indexof(['Light','Dark'], datum.cat) + (indexof(['WT','TNF','µMT-TNF'], datum.g1) - 1) * 0.28", "as": "p1"},
                    {"calculate": "indexof(['Light','Dark'], datum.cat) + (indexof(['WT','TNF','µMT-TNF'], datum.g2) - 1) * 0.28", "as": "p2"},
                    {"calculate": "(datum.p1 + datum.p2) / 2", "as": "pm"}
                  ],
                  "layer": [
                    {"mark": {"type": "rule", "color": "#333", "strokeWidth": 1.3}, "encoding": {"x": {"field": "p1", "type": "quantitative", "scale": {"domain": [-0.461, 1.461], "nice": false, "zero": false}}, "x2": {"field": "p2"}, "y": {"field": "top", "type": "quantitative", "scale": {"domain": [0.2, 0.6], "nice": false, "zero": false}}}},
                    {"mark": {"type": "rule", "color": "#333", "strokeWidth": 1.3}, "encoding": {"x": {"field": "p1", "type": "quantitative", "scale": {"domain": [-0.461, 1.461], "nice": false, "zero": false}}, "y": {"field": "b1", "type": "quantitative", "scale": {"domain": [0.2, 0.6], "nice": false, "zero": false}}, "y2": {"field": "top"}}},
                    {"mark": {"type": "rule", "color": "#333", "strokeWidth": 1.3}, "encoding": {"x": {"field": "p2", "type": "quantitative", "scale": {"domain": [-0.461, 1.461], "nice": false, "zero": false}}, "y": {"field": "b2", "type": "quantitative", "scale": {"domain": [0.2, 0.6], "nice": false, "zero": false}}, "y2": {"field": "top"}}},
                    {"mark": {"type": "text", "font": "DejaVu Sans", "fontSize": 13, "fontWeight": "bold", "color": "#111", "baseline": "alphabetic", "dy": -2}, "encoding": {"x": {"field": "pm", "type": "quantitative", "scale": {"domain": [-0.461, 1.461], "nice": false, "zero": false}}, "y": {"field": "top", "type": "quantitative", "scale": {"domain": [0.2, 0.6], "nice": false, "zero": false}}, "text": {"field": "lab"}}}
                  ]
                }
              ]
            }
          ]
        },
        {
          "bounds": "flush",
          "spacing": 72,
          "hconcat": [
            {
              "width": 183,
              "height": 169,
              "title": {"text": "Food Intake", "offset": -27},
              "data": {"values": [
                {"cat": "Light", "g": "WT", "v": 2.4}, {"cat": "Light", "g": "WT", "v": 1.6}, {"cat": "Light", "g": "WT", "v": 1.55}, {"cat": "Light", "g": "WT", "v": 1.45}, {"cat": "Light", "g": "WT", "v": 1.4}, {"cat": "Light", "g": "WT", "v": 1.3}, {"cat": "Light", "g": "WT", "v": 1.25}, {"cat": "Light", "g": "WT", "v": 1.2}, {"cat": "Light", "g": "WT", "v": 1.15}, {"cat": "Light", "g": "WT", "v": 1.1}, {"cat": "Light", "g": "WT", "v": 1.0}, {"cat": "Light", "g": "WT", "v": 0.9}, {"cat": "Light", "g": "WT", "v": 0.8}, {"cat": "Light", "g": "WT", "v": 0.7},
                {"cat": "Light", "g": "TNF", "v": 2.05}, {"cat": "Light", "g": "TNF", "v": 1.75}, {"cat": "Light", "g": "TNF", "v": 1.7}, {"cat": "Light", "g": "TNF", "v": 1.65}, {"cat": "Light", "g": "TNF", "v": 1.6}, {"cat": "Light", "g": "TNF", "v": 1.5}, {"cat": "Light", "g": "TNF", "v": 1.4}, {"cat": "Light", "g": "TNF", "v": 1.3}, {"cat": "Light", "g": "TNF", "v": 1.2}, {"cat": "Light", "g": "TNF", "v": 1.1}, {"cat": "Light", "g": "TNF", "v": 1.0}, {"cat": "Light", "g": "TNF", "v": 0.8}, {"cat": "Light", "g": "TNF", "v": 0.65}, {"cat": "Light", "g": "TNF", "v": 0.15},
                {"cat": "Light", "g": "µMT-TNF", "v": 2.65}, {"cat": "Light", "g": "µMT-TNF", "v": 2.2}, {"cat": "Light", "g": "µMT-TNF", "v": 1.5}, {"cat": "Light", "g": "µMT-TNF", "v": 1.4}, {"cat": "Light", "g": "µMT-TNF", "v": 1.3}, {"cat": "Light", "g": "µMT-TNF", "v": 1.2}, {"cat": "Light", "g": "µMT-TNF", "v": 1.1}, {"cat": "Light", "g": "µMT-TNF", "v": 1.0}, {"cat": "Light", "g": "µMT-TNF", "v": 0.9}, {"cat": "Light", "g": "µMT-TNF", "v": 0.8}, {"cat": "Light", "g": "µMT-TNF", "v": 0.7}, {"cat": "Light", "g": "µMT-TNF", "v": 0.6}, {"cat": "Light", "g": "µMT-TNF", "v": 0.4},
                {"cat": "Dark", "g": "WT", "v": 3.3}, {"cat": "Dark", "g": "WT", "v": 3.1}, {"cat": "Dark", "g": "WT", "v": 3.0}, {"cat": "Dark", "g": "WT", "v": 2.8}, {"cat": "Dark", "g": "WT", "v": 2.8}, {"cat": "Dark", "g": "WT", "v": 2.7}, {"cat": "Dark", "g": "WT", "v": 2.6}, {"cat": "Dark", "g": "WT", "v": 2.55}, {"cat": "Dark", "g": "WT", "v": 2.5}, {"cat": "Dark", "g": "WT", "v": 2.4}, {"cat": "Dark", "g": "WT", "v": 2.3}, {"cat": "Dark", "g": "WT", "v": 2.3}, {"cat": "Dark", "g": "WT", "v": 2.2}, {"cat": "Dark", "g": "WT", "v": 2.1},
                {"cat": "Dark", "g": "TNF", "v": 3.65}, {"cat": "Dark", "g": "TNF", "v": 3.6}, {"cat": "Dark", "g": "TNF", "v": 3.55}, {"cat": "Dark", "g": "TNF", "v": 3.5}, {"cat": "Dark", "g": "TNF", "v": 3.4}, {"cat": "Dark", "g": "TNF", "v": 2.65}, {"cat": "Dark", "g": "TNF", "v": 2.55}, {"cat": "Dark", "g": "TNF", "v": 2.5}, {"cat": "Dark", "g": "TNF", "v": 2.4}, {"cat": "Dark", "g": "TNF", "v": 2.3}, {"cat": "Dark", "g": "TNF", "v": 2.2}, {"cat": "Dark", "g": "TNF", "v": 2.15}, {"cat": "Dark", "g": "TNF", "v": 2.1}, {"cat": "Dark", "g": "TNF", "v": 0.0},
                {"cat": "Dark", "g": "µMT-TNF", "v": 4.65}, {"cat": "Dark", "g": "µMT-TNF", "v": 3.75}, {"cat": "Dark", "g": "µMT-TNF", "v": 3.5}, {"cat": "Dark", "g": "µMT-TNF", "v": 3.4}, {"cat": "Dark", "g": "µMT-TNF", "v": 3.35}, {"cat": "Dark", "g": "µMT-TNF", "v": 3.3}, {"cat": "Dark", "g": "µMT-TNF", "v": 3.25}, {"cat": "Dark", "g": "µMT-TNF", "v": 3.2}, {"cat": "Dark", "g": "µMT-TNF", "v": 3.1}, {"cat": "Dark", "g": "µMT-TNF", "v": 3.05}, {"cat": "Dark", "g": "µMT-TNF", "v": 3.0}, {"cat": "Dark", "g": "µMT-TNF", "v": 2.9}, {"cat": "Dark", "g": "µMT-TNF", "v": 1.3}
              ]},
              "layer": [
                {
                  "transform": [
                    {"window": [{"op": "row_number", "as": "r"}], "groupby": ["cat", "g"], "sort": [{"field": "v", "order": "ascending"}]},
                    {"calculate": "indexof(['Light','Dark'], datum.cat) + (indexof(['WT','TNF','µMT-TNF'], datum.g) - 1) * 0.275 + (datum.r % 3 - 1) * 0.09", "as": "pos"}
                  ],
                  "mark": {"type": "point", "size": 48, "strokeWidth": 1.4, "opacity": 1},
                  "encoding": {
                    "x": {"field": "pos", "type": "quantitative", "scale": {"domain": [-0.449, 1.607], "nice": false, "zero": false}, "axis": {"values": [0, 1], "tickCount": 30, "labelOverlap": false, "labelExpr": "datum.value < 0.5 ? 'Light' : 'Dark'", "title": "f", "titleX": -43, "titleY": -245, "titleAngle": 0, "titleAlign": "left", "titleBaseline": "alphabetic", "titleFontSize": 15, "titleColor": "#2b1b3f"}},
                    "y": {"field": "v", "type": "quantitative", "scale": {"domain": [0, 5], "nice": false, "zero": false}, "axis": {"values": [0, 1, 2, 3, 4, 5], "tickCount": 30, "format": "d", "labelOverlap": false, "title": "Food intake (g)", "titleFontWeight": "normal", "titlePadding": 7}},
                    "shape": {"field": "g", "type": "nominal", "scale": {"domain": ["WT", "TNF", "µMT-TNF"], "range": ["circle", "square", "triangle-up"]}, "legend": null},
                    "stroke": {"field": "g", "type": "nominal", "scale": {"domain": ["WT", "TNF", "µMT-TNF"], "range": ["#3cb54a", "#4472c4", "#ff2020"]}, "legend": null},
                    "fill": {"field": "g", "type": "nominal", "scale": {"domain": ["WT", "TNF", "µMT-TNF"], "range": ["transparent", "#4472c4", "#ff2020"]}, "legend": null}
                  }
                },
                {
                  "transform": [
                    {"aggregate": [{"op": "mean", "field": "v", "as": "m"}, {"op": "stderr", "field": "v", "as": "se"}], "groupby": ["cat", "g"]},
                    {"calculate": "datum.m - datum.se", "as": "lo"},
                    {"calculate": "datum.m + datum.se", "as": "hi"},
                    {"calculate": "indexof(['Light','Dark'], datum.cat) + (indexof(['WT','TNF','µMT-TNF'], datum.g) - 1) * 0.275", "as": "pos"}
                  ],
                  "layer": [
                    {"mark": {"type": "tick", "orient": "horizontal", "size": 20, "thickness": 1.5, "color": "#222"}, "encoding": {"x": {"field": "pos", "type": "quantitative", "scale": {"domain": [-0.449, 1.607], "nice": false, "zero": false}}, "y": {"field": "m", "type": "quantitative", "scale": {"domain": [0, 5], "nice": false, "zero": false}}}},
                    {"mark": {"type": "rule", "color": "#111", "strokeWidth": 1.5}, "encoding": {"x": {"field": "pos", "type": "quantitative", "scale": {"domain": [-0.449, 1.607], "nice": false, "zero": false}}, "y": {"field": "lo", "type": "quantitative", "scale": {"domain": [0, 5], "nice": false, "zero": false}}, "y2": {"field": "hi"}}},
                    {"mark": {"type": "tick", "orient": "horizontal", "size": 10, "thickness": 1.5, "color": "#111"}, "encoding": {"x": {"field": "pos", "type": "quantitative", "scale": {"domain": [-0.449, 1.607], "nice": false, "zero": false}}, "y": {"field": "lo", "type": "quantitative", "scale": {"domain": [0, 5], "nice": false, "zero": false}}}},
                    {"mark": {"type": "tick", "orient": "horizontal", "size": 10, "thickness": 1.5, "color": "#111"}, "encoding": {"x": {"field": "pos", "type": "quantitative", "scale": {"domain": [-0.449, 1.607], "nice": false, "zero": false}}, "y": {"field": "hi", "type": "quantitative", "scale": {"domain": [0, 5], "nice": false, "zero": false}}}}
                  ]
                },
                {
                  "data": {"values": [
                    {"cat": "Dark", "g1": "WT", "g2": "µMT-TNF", "top": 6.13, "b1": 3.59, "b2": 5.82, "lab": "*"},
                    {"cat": "Dark", "g1": "TNF", "g2": "µMT-TNF", "top": 5.25, "b1": 3.71, "b2": 4.96, "lab": "*"}
                  ]},
                  "transform": [
                    {"calculate": "indexof(['Light','Dark'], datum.cat) + (indexof(['WT','TNF','µMT-TNF'], datum.g1) - 1) * 0.275", "as": "p1"},
                    {"calculate": "indexof(['Light','Dark'], datum.cat) + (indexof(['WT','TNF','µMT-TNF'], datum.g2) - 1) * 0.275", "as": "p2"},
                    {"calculate": "(datum.p1 + datum.p2) / 2", "as": "pm"}
                  ],
                  "layer": [
                    {"mark": {"type": "rule", "color": "#333", "strokeWidth": 1.3}, "encoding": {"x": {"field": "p1", "type": "quantitative", "scale": {"domain": [-0.449, 1.607], "nice": false, "zero": false}}, "x2": {"field": "p2"}, "y": {"field": "top", "type": "quantitative", "scale": {"domain": [0, 5], "nice": false, "zero": false}}}},
                    {"mark": {"type": "rule", "color": "#333", "strokeWidth": 1.3}, "encoding": {"x": {"field": "p1", "type": "quantitative", "scale": {"domain": [-0.449, 1.607], "nice": false, "zero": false}}, "y": {"field": "b1", "type": "quantitative", "scale": {"domain": [0, 5], "nice": false, "zero": false}}, "y2": {"field": "top"}}},
                    {"mark": {"type": "rule", "color": "#333", "strokeWidth": 1.3}, "encoding": {"x": {"field": "p2", "type": "quantitative", "scale": {"domain": [-0.449, 1.607], "nice": false, "zero": false}}, "y": {"field": "b2", "type": "quantitative", "scale": {"domain": [0, 5], "nice": false, "zero": false}}, "y2": {"field": "top"}}},
                    {"mark": {"type": "text", "font": "DejaVu Sans", "fontSize": 13, "fontWeight": "bold", "color": "#111", "baseline": "alphabetic", "dy": -2}, "encoding": {"x": {"field": "pm", "type": "quantitative", "scale": {"domain": [-0.449, 1.607], "nice": false, "zero": false}}, "y": {"field": "top", "type": "quantitative", "scale": {"domain": [0, 5], "nice": false, "zero": false}}, "text": {"field": "lab"}}}
                  ]
                }
              ]
            },
            {
              "width": 105,
              "height": 169,
              "title": {"text": "Gastrocnemius", "offset": -29},
              "data": {"values": [
                {"g": "WT", "v": 134}, {"g": "WT", "v": 130}, {"g": "WT", "v": 127}, {"g": "WT", "v": 125}, {"g": "WT", "v": 123}, {"g": "WT", "v": 121}, {"g": "WT", "v": 119}, {"g": "WT", "v": 118}, {"g": "WT", "v": 117}, {"g": "WT", "v": 115}, {"g": "WT", "v": 113}, {"g": "WT", "v": 111}, {"g": "WT", "v": 108}, {"g": "WT", "v": 105},
                {"g": "TNF", "v": 129}, {"g": "TNF", "v": 121}, {"g": "TNF", "v": 119}, {"g": "TNF", "v": 117}, {"g": "TNF", "v": 115}, {"g": "TNF", "v": 115}, {"g": "TNF", "v": 113}, {"g": "TNF", "v": 111}, {"g": "TNF", "v": 110}, {"g": "TNF", "v": 108}, {"g": "TNF", "v": 106}, {"g": "TNF", "v": 104}, {"g": "TNF", "v": 101}, {"g": "TNF", "v": 98}, {"g": "TNF", "v": 77},
                {"g": "µMT-TNF", "v": 116}, {"g": "µMT-TNF", "v": 115}, {"g": "µMT-TNF", "v": 114}, {"g": "µMT-TNF", "v": 113}, {"g": "µMT-TNF", "v": 111}, {"g": "µMT-TNF", "v": 109}, {"g": "µMT-TNF", "v": 106}, {"g": "µMT-TNF", "v": 104}, {"g": "µMT-TNF", "v": 102}, {"g": "µMT-TNF", "v": 100}, {"g": "µMT-TNF", "v": 90}, {"g": "µMT-TNF", "v": 66}
              ]},
              "layer": [
                {
                  "transform": [
                    {"window": [{"op": "row_number", "as": "r"}], "groupby": ["g"], "sort": [{"field": "v", "order": "ascending"}]},
                    {"calculate": "indexof(['WT','TNF','µMT-TNF'], datum.g) + (datum.r % 3 - 1) * 0.25", "as": "pos"}
                  ],
                  "mark": {"type": "point", "size": 48, "strokeWidth": 1.4, "opacity": 1},
                  "encoding": {
                    "x": {"field": "pos", "type": "quantitative", "scale": {"domain": [-0.647, 2.441], "nice": false, "zero": false}, "axis": {"values": [0, 1, 2], "tickCount": 30, "labelOverlap": false, "labelExpr": "datum.value == 0 ? 'WT' : datum.value == 1 ? 'TNFᵟᴬᴿᴱᐟ⁺' : 'µMT-TNFᵟᴬᴿᴱᐟ⁺'", "labelAngle": -45, "labelAlign": "right", "labelBaseline": "middle", "labelPadding": 4, "title": "g", "titleX": -23, "titleY": -247, "titleAngle": 0, "titleAlign": "left", "titleBaseline": "alphabetic", "titleFontSize": 15, "titleColor": "#2b1b3f"}},
                    "y": {"field": "v", "type": "quantitative", "scale": {"domain": [0, 150], "nice": false, "zero": false}, "axis": {"values": [0, 50, 100, 150], "tickCount": 30, "format": "d", "labelOverlap": false, "title": "Weight (mg)", "titlePadding": 6}},
                    "shape": {"field": "g", "type": "nominal", "scale": {"domain": ["WT", "TNF", "µMT-TNF"], "range": ["circle", "square", "triangle-up"]}, "legend": null},
                    "stroke": {"field": "g", "type": "nominal", "scale": {"domain": ["WT", "TNF", "µMT-TNF"], "range": ["#3cb54a", "#4472c4", "#ff2020"]}, "legend": null},
                    "fill": {"field": "g", "type": "nominal", "scale": {"domain": ["WT", "TNF", "µMT-TNF"], "range": ["transparent", "#4472c4", "#ff2020"]}, "legend": null}
                  }
                },
                {
                  "transform": [
                    {"aggregate": [{"op": "mean", "field": "v", "as": "m"}, {"op": "stderr", "field": "v", "as": "se"}], "groupby": ["g"]},
                    {"calculate": "datum.m - datum.se", "as": "lo"},
                    {"calculate": "datum.m + datum.se", "as": "hi"},
                    {"calculate": "indexof(['WT','TNF','µMT-TNF'], datum.g)", "as": "pos"}
                  ],
                  "layer": [
                    {"mark": {"type": "tick", "orient": "horizontal", "size": 24, "thickness": 1.5, "color": "#222"}, "encoding": {"x": {"field": "pos", "type": "quantitative", "scale": {"domain": [-0.647, 2.441], "nice": false, "zero": false}}, "y": {"field": "m", "type": "quantitative", "scale": {"domain": [0, 150], "nice": false, "zero": false}}}},
                    {"mark": {"type": "rule", "color": "#111", "strokeWidth": 1.5}, "encoding": {"x": {"field": "pos", "type": "quantitative", "scale": {"domain": [-0.647, 2.441], "nice": false, "zero": false}}, "y": {"field": "lo", "type": "quantitative", "scale": {"domain": [0, 150], "nice": false, "zero": false}}, "y2": {"field": "hi"}}},
                    {"mark": {"type": "tick", "orient": "horizontal", "size": 12, "thickness": 1.5, "color": "#111"}, "encoding": {"x": {"field": "pos", "type": "quantitative", "scale": {"domain": [-0.647, 2.441], "nice": false, "zero": false}}, "y": {"field": "lo", "type": "quantitative", "scale": {"domain": [0, 150], "nice": false, "zero": false}}}},
                    {"mark": {"type": "tick", "orient": "horizontal", "size": 12, "thickness": 1.5, "color": "#111"}, "encoding": {"x": {"field": "pos", "type": "quantitative", "scale": {"domain": [-0.647, 2.441], "nice": false, "zero": false}}, "y": {"field": "hi", "type": "quantitative", "scale": {"domain": [0, 150], "nice": false, "zero": false}}}}
                  ]
                },
                {
                  "data": {"values": [
                    {"g1": "WT", "g2": "µMT-TNF", "top": 151.8, "b1": 142.3, "b2": 125.8, "lab": "**"}
                  ]},
                  "transform": [
                    {"calculate": "indexof(['WT','TNF','µMT-TNF'], datum.g1)", "as": "p1"},
                    {"calculate": "indexof(['WT','TNF','µMT-TNF'], datum.g2)", "as": "p2"},
                    {"calculate": "(datum.p1 + datum.p2) / 2", "as": "pm"}
                  ],
                  "layer": [
                    {"mark": {"type": "rule", "color": "#333", "strokeWidth": 1.3}, "encoding": {"x": {"field": "p1", "type": "quantitative", "scale": {"domain": [-0.647, 2.441], "nice": false, "zero": false}}, "x2": {"field": "p2"}, "y": {"field": "top", "type": "quantitative", "scale": {"domain": [0, 150], "nice": false, "zero": false}}}},
                    {"mark": {"type": "rule", "color": "#333", "strokeWidth": 1.3}, "encoding": {"x": {"field": "p1", "type": "quantitative", "scale": {"domain": [-0.647, 2.441], "nice": false, "zero": false}}, "y": {"field": "b1", "type": "quantitative", "scale": {"domain": [0, 150], "nice": false, "zero": false}}, "y2": {"field": "top"}}},
                    {"mark": {"type": "rule", "color": "#333", "strokeWidth": 1.3}, "encoding": {"x": {"field": "p2", "type": "quantitative", "scale": {"domain": [-0.647, 2.441], "nice": false, "zero": false}}, "y": {"field": "b2", "type": "quantitative", "scale": {"domain": [0, 150], "nice": false, "zero": false}}, "y2": {"field": "top"}}},
                    {"mark": {"type": "text", "font": "DejaVu Sans", "fontSize": 13, "fontWeight": "bold", "color": "#111", "baseline": "alphabetic", "dy": -2}, "encoding": {"x": {"field": "pm", "type": "quantitative", "scale": {"domain": [-0.647, 2.441], "nice": false, "zero": false}}, "y": {"field": "top", "type": "quantitative", "scale": {"domain": [0, 150], "nice": false, "zero": false}}, "text": {"field": "lab"}}}
                  ]
                }
              ]
            },
            {
              "width": 113,
              "height": 169,
              "title": {"text": "Paws", "offset": -33},
              "data": {"values": [
                {"g": "WT", "v": 1.254}, {"g": "WT", "v": 1.238}, {"g": "WT", "v": 1.214}, {"g": "WT", "v": 1.212}, {"g": "WT", "v": 1.21}, {"g": "WT", "v": 1.207}, {"g": "WT", "v": 1.205}, {"g": "WT", "v": 1.203}, {"g": "WT", "v": 1.198}, {"g": "WT", "v": 1.19}, {"g": "WT", "v": 1.187}, {"g": "WT", "v": 1.183}, {"g": "WT", "v": 1.176}, {"g": "WT", "v": 1.165},
                {"g": "TNF", "v": 1.24}, {"g": "TNF", "v": 1.218}, {"g": "TNF", "v": 1.217}, {"g": "TNF", "v": 1.214}, {"g": "TNF", "v": 1.196}, {"g": "TNF", "v": 1.19}, {"g": "TNF", "v": 1.188}, {"g": "TNF", "v": 1.184}, {"g": "TNF", "v": 1.172}, {"g": "TNF", "v": 1.17}, {"g": "TNF", "v": 1.166}, {"g": "TNF", "v": 1.162}, {"g": "TNF", "v": 1.157}, {"g": "TNF", "v": 1.149},
                {"g": "µMT-TNF", "v": 1.218}, {"g": "µMT-TNF", "v": 1.216}, {"g": "µMT-TNF", "v": 1.21}, {"g": "µMT-TNF", "v": 1.21}, {"g": "µMT-TNF", "v": 1.195}, {"g": "µMT-TNF", "v": 1.194}, {"g": "µMT-TNF", "v": 1.185}, {"g": "µMT-TNF", "v": 1.18}, {"g": "µMT-TNF", "v": 1.172}, {"g": "µMT-TNF", "v": 1.168}, {"g": "µMT-TNF", "v": 1.164}, {"g": "µMT-TNF", "v": 1.157}, {"g": "µMT-TNF", "v": 1.149}, {"g": "µMT-TNF", "v": 1.14}
              ]},
              "layer": [
                {
                  "transform": [
                    {"window": [{"op": "row_number", "as": "r"}], "groupby": ["g"], "sort": [{"field": "v", "order": "ascending"}]},
                    {"calculate": "indexof(['WT','TNF','µMT-TNF'], datum.g) + (datum.r % 3 - 1) * 0.25", "as": "pos"}
                  ],
                  "mark": {"type": "point", "size": 48, "strokeWidth": 1.4, "opacity": 1},
                  "encoding": {
                    "x": {"field": "pos", "type": "quantitative", "scale": {"domain": [-0.676, 2.647], "nice": false, "zero": false}, "axis": {"values": [0, 1, 2], "tickCount": 30, "labelOverlap": false, "labelExpr": "datum.value == 0 ? 'WT' : datum.value == 1 ? 'TNFᵟᴬᴿᴱᐟ⁺' : 'µMT-TNFᵟᴬᴿᴱᐟ⁺'", "labelAngle": -45, "labelAlign": "right", "labelBaseline": "middle", "labelPadding": 4, "title": "h", "titleX": -23, "titleY": -251, "titleAngle": 0, "titleAlign": "left", "titleBaseline": "alphabetic", "titleFontSize": 15, "titleColor": "#2b1b3f"}},
                    "y": {"field": "v", "type": "quantitative", "scale": {"domain": [1.1, 1.3], "nice": false, "zero": false}, "axis": {"values": [1.1, 1.15, 1.2, 1.25, 1.3], "tickCount": 30, "format": ".2f", "labelOverlap": false, "title": "BMD (g/cm²)", "titlePadding": 7}},
                    "shape": {"field": "g", "type": "nominal", "scale": {"domain": ["WT", "TNF", "µMT-TNF"], "range": ["circle", "square", "triangle-up"]}, "legend": null},
                    "stroke": {"field": "g", "type": "nominal", "scale": {"domain": ["WT", "TNF", "µMT-TNF"], "range": ["#3cb54a", "#4472c4", "#ff2020"]}, "legend": null},
                    "fill": {"field": "g", "type": "nominal", "scale": {"domain": ["WT", "TNF", "µMT-TNF"], "range": ["transparent", "#4472c4", "#ff2020"]}, "legend": null}
                  }
                },
                {
                  "transform": [
                    {"aggregate": [{"op": "mean", "field": "v", "as": "m"}, {"op": "stderr", "field": "v", "as": "se"}], "groupby": ["g"]},
                    {"calculate": "datum.m - datum.se", "as": "lo"},
                    {"calculate": "datum.m + datum.se", "as": "hi"},
                    {"calculate": "indexof(['WT','TNF','µMT-TNF'], datum.g)", "as": "pos"}
                  ],
                  "layer": [
                    {"mark": {"type": "tick", "orient": "horizontal", "size": 24, "thickness": 1.5, "color": "#222"}, "encoding": {"x": {"field": "pos", "type": "quantitative", "scale": {"domain": [-0.676, 2.647], "nice": false, "zero": false}}, "y": {"field": "m", "type": "quantitative", "scale": {"domain": [1.1, 1.3], "nice": false, "zero": false}}}},
                    {"mark": {"type": "rule", "color": "#111", "strokeWidth": 1.5}, "encoding": {"x": {"field": "pos", "type": "quantitative", "scale": {"domain": [-0.676, 2.647], "nice": false, "zero": false}}, "y": {"field": "lo", "type": "quantitative", "scale": {"domain": [1.1, 1.3], "nice": false, "zero": false}}, "y2": {"field": "hi"}}},
                    {"mark": {"type": "tick", "orient": "horizontal", "size": 12, "thickness": 1.5, "color": "#111"}, "encoding": {"x": {"field": "pos", "type": "quantitative", "scale": {"domain": [-0.676, 2.647], "nice": false, "zero": false}}, "y": {"field": "lo", "type": "quantitative", "scale": {"domain": [1.1, 1.3], "nice": false, "zero": false}}}},
                    {"mark": {"type": "tick", "orient": "horizontal", "size": 12, "thickness": 1.5, "color": "#111"}, "encoding": {"x": {"field": "pos", "type": "quantitative", "scale": {"domain": [-0.676, 2.647], "nice": false, "zero": false}}, "y": {"field": "hi", "type": "quantitative", "scale": {"domain": [1.1, 1.3], "nice": false, "zero": false}}}}
                  ]
                }
              ]
            }
          ]
        }
      ]
    }
  ],
  "config": {
    "font": "Liberation Sans",
    "view": {"stroke": null},
    "axis": {"labelFont": "Liberation Sans", "labelFontSize": 9.5, "labelFontWeight": "bold", "labelColor": "#111", "labelOverlap": false, "titleFont": "Liberation Sans", "titleFontSize": 9, "titleFontWeight": "bold", "titleColor": "#111", "domainColor": "#333", "domainWidth": 1.4, "tickColor": "#333", "tickWidth": 1.4, "tickSize": 4, "grid": false},
    "axisX": {"labelPadding": 5},
    "axisY": {"labelPadding": 3},
    "title": {"font": "Liberation Sans", "fontSize": 9, "fontWeight": "bold", "color": "#111", "baseline": "alphabetic"}
  }
}
